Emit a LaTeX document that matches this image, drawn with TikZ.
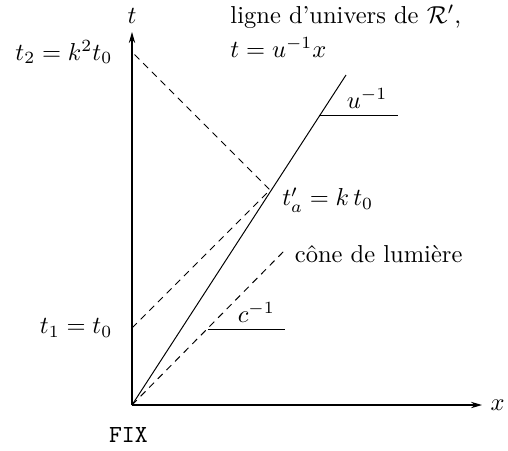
\documentclass[tikz,border=0pt]{standalone}
\usepackage{amsmath,amssymb}
\usetikzlibrary{arrows.meta, positioning}
\tikzset{
  axis/.style={-{Stealth[length=4.5pt, width=2.6pt]}, line width=0.45pt},
  ray/.style={dash pattern=on 2.8pt off 2.2pt, line width=0.4pt},
  wline/.style={line width=0.4pt},
  slopebar/.style={line width=0.4pt},
}

\begin{document}
\begin{tikzpicture}[x=0.408pt, y=0.408pt]
  \useasboundingbox (-132,-45) rectangle (376,405);

  % Axes
  \coordinate (O) at (0,0);
  \coordinate (T) at (0,373);
  \coordinate (X) at (350,0);
  \draw[axis] (O) -- (T);
  \draw[axis] (O) -- (X);
  \node[above=0pt of T] (tlab) {$t$};
  \node[right=0pt of X] (xlab) {$x$};
  \node[below=5.5pt of O, xshift=-1.5pt, font=\ttfamily] (fixlab) {FIX};

  % Events
  \coordinate (E1) at (0,77);
  \coordinate (Ra) at (138,215);
  \coordinate (E2) at (0,353);
  \coordinate (W) at (214,330);
  \coordinate (L) at (153,155);

  % World line and light signals
  \draw[wline] (O) -- (W);
  \draw[ray] (O) -- (L);
  \draw[ray] (E1) -- (Ra) -- (E2);

  % Slopes
  \coordinate (U1) at (187,290);
  \coordinate (U2) at (266,290);
  \coordinate (C1) at (76,76);
  \coordinate (C2) at (153,76);
  \draw[slopebar] (U1) -- (U2)
    node[midway, above, xshift=3.5pt, inner sep=2.5pt] (ulab) {$u^{-1}$};
  \draw[slopebar] (C1) -- (C2)
    node[midway, above, xshift=4pt, inner sep=2.5pt] (clab) {$c^{-1}$};

  % Labels
  \node[left=4.5pt of E2] (t2lab) {$t_2=k^2t_0$};
  \node[left=4.5pt of E1] (t1lab) {$t_1=t_0$};
  \node[right=1.5pt of Ra, yshift=-4pt] (talab) {$t'_a=k\,t_0$};
  \node[right=0.5pt of L, yshift=-1.5pt] (conelab) {cône de lumière};
  \node[anchor=west, inner sep=0pt, align=left] (wlab) at (98,374)
    {ligne d'univers de $\mathcal{R}'$,\\[2pt] $t=u^{-1}x$};
\end{tikzpicture}
\end{document}
